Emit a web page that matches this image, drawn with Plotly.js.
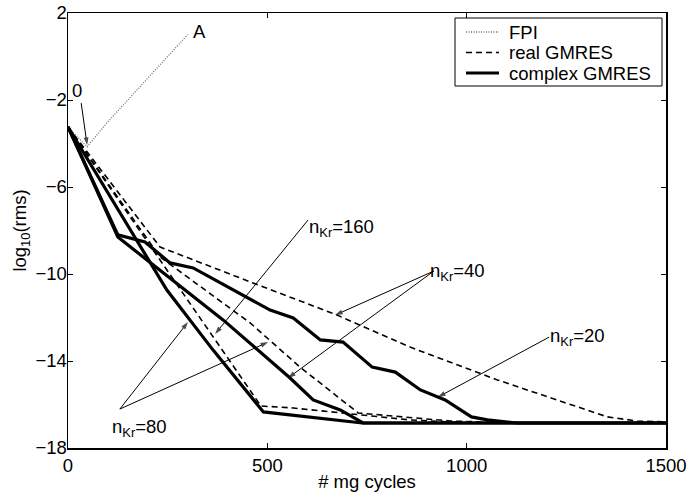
<!DOCTYPE html>
<html>
<head>
<meta charset="utf-8">
<script src="https://cdn.plot.ly/plotly-3.0.1.min.js"></script>
<style>html,body{margin:0;padding:0;background:#fff;}#chart{width:691px;height:500px;}</style>
</head>
<body>
<div id="chart"></div>
<script>
// ---- data ----
const fpiX = [0, 48, 100, 150, 200, 250, 300];
const fpiY = [-3.24, -4.15, -3.0, -2.0, -0.95, 0.05, 1.0];

const real40X = [0, 231, 464, 675, 858, 1077, 1353, 1428, 1500];
const real40Y = [-3.24, -8.76, -10.41, -11.89, -13.36, -14.87, -16.57, -16.76, -16.8];

const real80X = [0, 231, 457, 582, 728, 959, 1134, 1500];
const real80Y = [-3.24, -9.22, -12.25, -14.28, -16.39, -16.76, -16.85, -16.85];

const real160X = [0, 484, 565, 733, 858, 1009, 1500];
const real160Y = [-3.24, -16.07, -16.16, -16.48, -16.71, -16.85, -16.85];

const complex20X = [0, 125, 193, 256, 314, 507, 565, 633, 690, 763, 821, 884, 946, 1012, 1052, 1127, 1500];
const complex20Y = [-3.24, -8.2, -8.53, -9.49, -9.72, -11.66, -12.02, -13.03, -13.13, -14.28, -14.51, -15.33, -15.79, -16.57, -16.71, -16.85, -16.85];

const complex40X = [0, 125, 389, 557, 615, 683, 740, 1500];
const complex40Y = [-3.24, -8.3, -12.11, -14.78, -15.79, -16.25, -16.85, -16.85];

const complex80X = [0, 248, 364, 490, 738, 1500];
const complex80Y = [-3.24, -10.74, -13.5, -16.34, -16.85, -16.85];

const xTicks = [0, 500, 1000, 1500];
const yTicks = [-18, -14, -10, -6, -2, 2];

const legendNames = ['FPI', 'real GMRES', 'complex GMRES'];

// annotation label texts and anchor points (data coordinates)
const labelTexts = ['n<sub>Kr</sub>=160', 'n<sub>Kr</sub>=40', 'n<sub>Kr</sub>=20', 'n<sub>Kr</sub>=80', '0', 'A'];
const labelX = [600, 903, 1204, 105, 23, 329];
const labelY = [-7.89, -9.91, -12.9, -17.08, -1.54, 1.13];
// arrows: tail -> head
const arrowTailX = [602, 918, 918, 1207, 130, 130, 33];
const arrowTailY = [-7.52, -9.86, -9.86, -12.9, -16.21, -16.21, -2.14];
const arrowHeadX = [369, 670, 552, 928, 301, 502, 48];
const arrowHeadY = [-12.76, -11.89, -14.78, -15.66, -12.21, -13.13, -4.07];

const FONT = 'Liberation Sans, Arial, Helvetica, sans-serif';
const FS = 18.5;

const DASH = '6px,4px';
const DOT = '1px,1.5px';
const lineFPI = {color: '#6f6f6f', width: 1.3, dash: DOT};
const lineReal = {color: '#000', width: 1.6, dash: DASH};
const lineComplex = {color: '#000', width: 3.2};

const traces = [
  {x: fpiX, y: fpiY, name: legendNames[0], mode: 'lines', line: lineFPI},
  {x: real40X, y: real40Y, name: legendNames[1], mode: 'lines', line: lineReal},
  {x: real80X, y: real80Y, name: legendNames[1], mode: 'lines', line: lineReal},
  {x: real160X, y: real160Y, name: legendNames[1], mode: 'lines', line: lineReal},
  {x: complex20X, y: complex20Y, name: legendNames[2], mode: 'lines', line: lineComplex},
  {x: complex40X, y: complex40Y, name: legendNames[2], mode: 'lines', line: lineComplex},
  {x: complex80X, y: complex80Y, name: legendNames[2], mode: 'lines', line: lineComplex}
];

// arrows as thin lines with arrow-head markers
for (let i = 0; i < arrowTailX.length; i++) {
  traces.push({
    x: [arrowTailX[i], arrowHeadX[i]], y: [arrowTailY[i], arrowHeadY[i]],
    mode: 'lines+markers', hoverinfo: 'skip', showlegend: false,
    line: {color: '#000', width: 1},
    marker: {symbol: 'arrow', angleref: 'previous', size: [0, 8], color: '#000', line: {width: 0}}
  });
}

const annotations = [];
for (let i = 0; i < labelTexts.length; i++) {
  const centered = (labelTexts[i] === '0' || labelTexts[i] === 'A');
  annotations.push({
    x: labelX[i], y: labelY[i], xref: 'x', yref: 'y',
    text: labelTexts[i], showarrow: false,
    xanchor: centered ? 'center' : 'left', yanchor: 'middle',
    font: {family: FONT, size: FS, color: '#000'}
  });
}

// hand-drawn legend box (MATLAB style, compact rows)
const P = (px) => (px - 68) / 598;          // paper x from pixel
const Q = (py) => 1 - (py - 13) / 435;      // paper y from pixel
const legendRowsY = [32, 52.5, 73];
const legendLines = [lineFPI, lineReal, lineComplex];
const shapes = [{
  type: 'rect', xref: 'paper', yref: 'paper',
  x0: P(455), x1: P(662), y0: Q(86), y1: Q(18),
  line: {color: '#000', width: 1}, fillcolor: '#fff', layer: 'above'
}];
for (let i = 0; i < legendNames.length; i++) {
  shapes.push({
    type: 'line', xref: 'paper', yref: 'paper',
    x0: P(466), x1: P(499), y0: Q(legendRowsY[i]), y1: Q(legendRowsY[i]),
    line: legendLines[i], layer: 'above'
  });
  annotations.push({
    x: P(507), y: Q(legendRowsY[i]), xref: 'paper', yref: 'paper',
    text: legendNames[i], showarrow: false, xanchor: 'left', yanchor: 'middle',
    font: {family: FONT, size: FS, color: '#000'}
  });
}

const axisCommon = {
  showline: true, linecolor: '#000', linewidth: 1.5, mirror: 'ticks',
  ticks: 'inside', ticklen: 5, tickwidth: 1, tickcolor: '#000',
  showgrid: false, zeroline: false,
  tickfont: {family: FONT, size: FS, color: '#000'}
};

const layout = {
  width: 691, height: 500,
  margin: {l: 68, r: 25, t: 13, b: 52},
  paper_bgcolor: '#fff', plot_bgcolor: '#fff',
  font: {family: FONT, size: FS, color: '#000'},
  xaxis: Object.assign({}, axisCommon, {
    range: [0, 1500], tickvals: xTicks, ticktext: xTicks.map(String),
    title: {text: '# mg cycles', font: {family: FONT, size: FS, color: '#000'}, standoff: 0}
  }),
  yaxis: Object.assign({}, axisCommon, {
    range: [-18, 2], tickvals: yTicks, ticktext: yTicks.map(v => v < 0 ? '\u2212' + Math.abs(v) : String(v)),
    ticklabelstandoff: -4,
    title: {text: 'log<sub>10</sub>(rms)', font: {family: FONT, size: FS, color: '#000'}, standoff: 4}
  }),
  showlegend: false,
  annotations: annotations,
  shapes: shapes
};

Plotly.newPlot('chart', traces, layout, {displayModeBar: false, staticPlot: true});
</script>
</body>
</html>
